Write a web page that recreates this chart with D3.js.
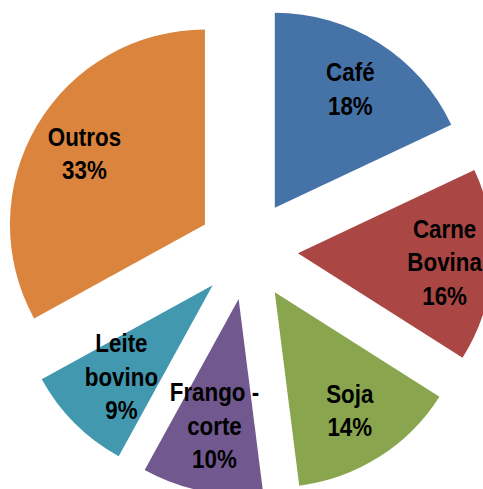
<!DOCTYPE html>
<html>
<head>
<meta charset="utf-8">
<script src="https://cdn.jsdelivr.net/npm/d3@7"></script>
<style>
  html, body { margin: 0; padding: 0; background: #fff; }
  svg { display: block; }
</style>
</head>
<body>
<svg id="chart" width="483" height="489"></svg>
<script>
const categories = ["Café", "Carne Bovina", "Soja", "Frango - corte", "Leite bovino", "Outros"];
const labelLines = [["Café"], ["Carne", "Bovina"], ["Soja"], ["Frango -", "corte"], ["Leite", "bovino"], ["Outros"]];
const values = [18, 16, 14, 10, 9, 33];
const colors = ["#4572A7", "#AA4643", "#89A54E", "#71588F", "#4198AF", "#DB843D"];

const W = 483, H = 489;
const cx = 248, cy = 250;
const R = 195;
const explode = 50;
const labelR = [141, 147, 140, 129, 129, 140];
const fontSize = 26, lineH = 33.5, squeeze = 0.86;

const svg = d3.select("#chart");
const g = svg.append("g").attr("transform", `translate(${cx},${cy})`);

const pie = d3.pie().sort(null).value(d => d.value).startAngle(0).endAngle(2 * Math.PI);
const data = categories.map((c, i) => ({ name: c, value: values[i], lines: labelLines[i], color: colors[i], idx: i }));
const arcs = pie(data);
const total = d3.sum(values);
const arc = d3.arc().innerRadius(0).outerRadius(R);

const slices = g.selectAll("g.slice").data(arcs).enter().append("g")
  .attr("class", "slice")
  .attr("transform", d => {
    const m = (d.startAngle + d.endAngle) / 2;
    return `translate(${explode * Math.sin(m)},${-explode * Math.cos(m)})`;
  });

slices.append("path").attr("d", arc).attr("fill", d => d.data.color);

slices.each(function(d) {
  const m = (d.startAngle + d.endAngle) / 2;
  const lr = labelR[d.data.idx];
  const x = lr * Math.sin(m), y = -lr * Math.cos(m);
  const lines = d.data.lines.concat([Math.round(d.data.value / total * 100) + "%"]);
  const t = d3.select(this).append("g")
    .attr("transform", `translate(${x},${y}) scale(${squeeze},1)`)
    .append("text")
    .attr("text-anchor", "middle")
    .attr("font-family", "'Liberation Sans Narrow', 'Arial Narrow', 'Liberation Sans', Arial, sans-serif")
    .attr("font-weight", "bold")
    .attr("font-size", fontSize)
    .attr("fill", "#000");
  const n = lines.length;
  lines.forEach((ln, k) => {
    t.append("tspan")
      .attr("x", 0)
      .attr("y", (k - (n - 1) / 2) * lineH + fontSize * 0.35)
      .text(ln);
  });
});
</script>
</body>
</html>
